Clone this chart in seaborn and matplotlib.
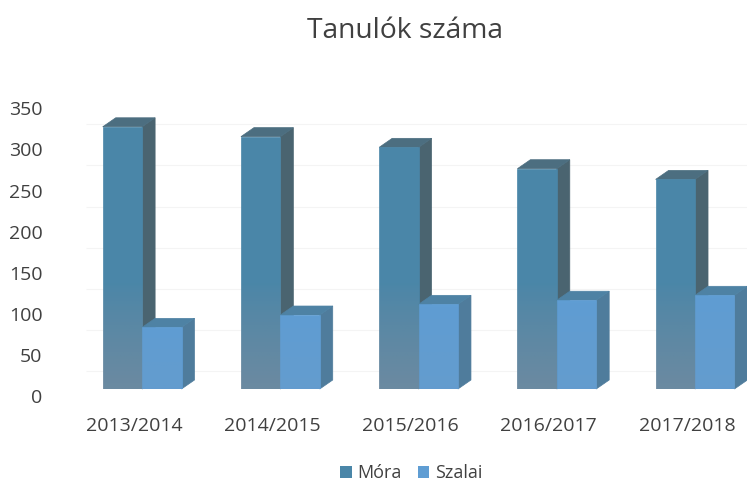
import numpy as np
import pandas as pd
import matplotlib
matplotlib.use('Agg')
import matplotlib.pyplot as plt
import matplotlib.transforms as mtransforms
from matplotlib.patches import Polygon
import seaborn as sns

# Values (front plane of the 3D bars)
years = ['2013/2014', '2014/2015', '2015/2016', '2016/2017', '2017/2018']
mora = [319, 307, 294, 268, 255]
szalai = [75, 90, 103, 108, 114]
y_ticks = [0, 50, 100, 150, 200, 250, 300, 350]

df = pd.DataFrame({'year': years * 2,
                   'school': ['Móra'] * 5 + ['Szalai'] * 5,
                   'count': mora + szalai})

sns.set_theme(style='white')
plt.rcParams['font.family'] = ['Open Sans', 'DejaVu Sans']
text_col = '#404040'

W, H = 747, 484
fig = plt.figure(figsize=(W / 100, H / 100), dpi=100)
ax = fig.add_axes([73 / W, (H - 389) / H, (W - 73) / W, 299 / H])

colors = {'Móra': '#4A86A8', 'Szalai': '#5F9DD3'}
sns.barplot(data=df, x='year', y='count', hue='school', palette=colors, order=years,
            width=0.57, gap=0, saturation=1, linewidth=0, ax=ax)

ax.set_xlim(-0.5, 4.376)
ax.set_ylim(0, 299 / 0.822)

# 3D depth in pixels, turned into data units
px_x = (ax.get_xlim()[1] - ax.get_xlim()[0]) / (W - 73)
px_y = (ax.get_ylim()[1] - ax.get_ylim()[0]) / 299
dx, dy = 13 * px_x, 9 * px_y

shades = {0: ('#4A6470', '#4C6E80', 3), 1: ('#4F7C9C', '#4E82A4', 4)}
bars = [p for c in ax.containers for p in c]
n = len(years)
for i, p in enumerate(bars):
    series = i // n
    side, top, z = shades[series]
    x0, w, h = p.get_x(), p.get_width(), p.get_height()
    x1 = x0 + w
    ax.add_patch(Polygon([(x1, 0), (x1 + dx, dy), (x1 + dx, h + dy), (x1, h)],
                         fc=side, ec=side, lw=0.5, zorder=z, clip_on=False))
    ax.add_patch(Polygon([(x0, h), (x0 + dx, h + dy), (x1 + dx, h + dy), (x1, h)],
                         fc=top, ec=top, lw=0.5, zorder=z, clip_on=False))
    p.set_zorder(z + 0.5 if series == 1 else z + 0.1)
    p.set_edgecolor(p.get_facecolor())
    p.set_linewidth(0.5)
    # greyish fade at the foot of the front faces
    strength = 0.42 if series == 0 else 0.08
    grad = np.zeros((64, 1, 4))
    grad[..., :3] = matplotlib.colors.to_rgb('#9A9098')
    grad[:, 0, 3] = np.linspace(0, 1, 64) ** 0.8 * strength
    top_val = min(h, 130)
    ax.imshow(grad, extent=(x0, x1, 0, top_val), aspect='auto', zorder=z + 0.6,
              origin='upper')

ax.set_xlim(-0.5, 4.376)
ax.set_ylim(0, 299 / 0.822)

# Gridlines sit on the back wall, faint
back = mtransforms.ScaledTranslation(0, 18 / 100, fig.dpi_scale_trans)
ax.hlines(y_ticks[:-1], 0.02, 1, transform=ax.get_yaxis_transform() + back,
          color='#F4F4F4', lw=0.8, zorder=1, clip_on=False)

for s in ax.spines.values():
    s.set_visible(False)
ax.patch.set_alpha(0)

ax.set_xlabel('')
ax.set_ylabel('')
ax.set_yticks(y_ticks)
ax.tick_params(axis='y', length=0, pad=22, labelsize=14, labelcolor=text_col)
ax.tick_params(axis='x', length=0, pad=20, labelsize=14, labelcolor=text_col)
down = mtransforms.ScaledTranslation(0, -7 / 100, fig.dpi_scale_trans)
for t in ax.yaxis.get_major_ticks():
    t.label1.set_transform(t.label1.get_transform() + down)
left = mtransforms.ScaledTranslation(-8 / 100, 0, fig.dpi_scale_trans)
for t in ax.xaxis.get_major_ticks():
    t.label1.set_transform(t.label1.get_transform() + left)

handles, labels = ax.get_legend_handles_labels()
ax.legend(handles, labels, loc='center', ncol=2, frameon=False, fontsize=13,
          labelcolor=text_col, handlelength=0.65, handleheight=0.65, handletextpad=0.3,
          columnspacing=0.9, bbox_to_anchor=(411 / W, 1 - 473 / H),
          bbox_transform=fig.transFigure)

fig.text(405 / W, 1 - 31 / H, 'Tanulók száma', ha='center', va='center',
         fontsize=20.3, color=text_col)

fig.savefig('out.png', dpi=100)
